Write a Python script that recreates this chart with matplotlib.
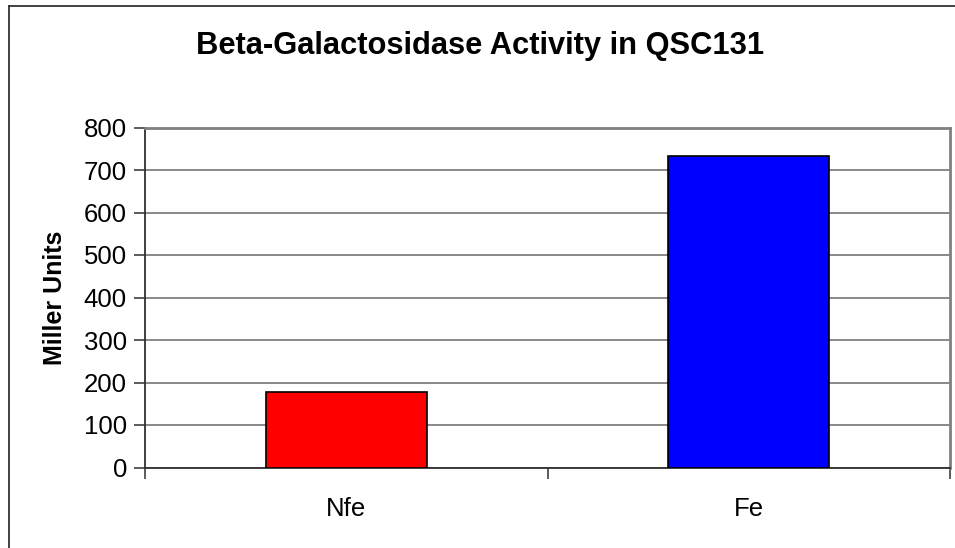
import matplotlib.pyplot as plt
from matplotlib.lines import Line2D

plt.rcParams['font.family'] = ['Liberation Sans', 'DejaVu Sans']

categories = ['Nfe', 'Fe']
activity = [178, 734]
bar_colors = ['#ff0000', '#0000ff']
yticks = [0, 100, 200, 300, 400, 500, 600, 700, 800]

W, H = 955, 548
fig = plt.figure(figsize=(W / 100, H / 100), dpi=100)
ax = fig.add_axes([145 / W, 1 - 467.5 / H, 805 / W, 340 / H])

xpos = list(range(len(categories)))
ax.bar(xpos, activity, width=0.4, color=bar_colors, edgecolor='black',
       linewidth=1.2, zorder=3)

ax.set_xlim(-0.5, len(categories) - 0.5)
ax.set_ylim(0, 800)
ax.set_yticks(yticks)
ax.set_yticklabels([str(v) for v in yticks], fontsize=18.5)
ax.yaxis.grid(True, color='#808080', linewidth=1.3, zorder=0)
ax.set_axisbelow(True)

# category labels sit between the tick marks at the category boundaries
ax.set_xticks([-0.5, 0.5, 1.5])
ax.set_xticklabels([])
ax.set_xticks(xpos, minor=True)
ax.set_xticklabels(categories, minor=True, fontsize=18.5)
ax.tick_params(axis='x', which='minor', length=0, pad=21)
ax.tick_params(axis='x', which='major', length=8, width=1.2, color='#404040',
               direction='out')
ax.tick_params(axis='y', length=8, width=1.2, color='#404040', pad=5)

for side in ['left', 'bottom']:
    ax.spines[side].set_color('#303030')
    ax.spines[side].set_linewidth(1.3)
for side in ['top', 'right']:
    ax.spines[side].set_color('#808080')
    ax.spines[side].set_linewidth(2.0)

ax.set_ylabel('Miller Units', fontsize=18, fontweight='bold', labelpad=12)
fig.text(480 / W, 1 - 46 / H, 'Beta-Galactosidase Activity in QSC131',
         ha='center', va='center', fontsize=22.2, fontweight='bold')

# chart frame
fig.add_artist(Line2D([8.5 / W, 8.5 / W], [0, 1 - 5.5 / H],
                      transform=fig.transFigure, color='#333333', linewidth=1.3))
fig.add_artist(Line2D([8.5 / W, 1], [1 - 5.5 / H, 1 - 5.5 / H],
                      transform=fig.transFigure, color='#333333', linewidth=1.3))

fig.savefig('out.png', dpi=100)
